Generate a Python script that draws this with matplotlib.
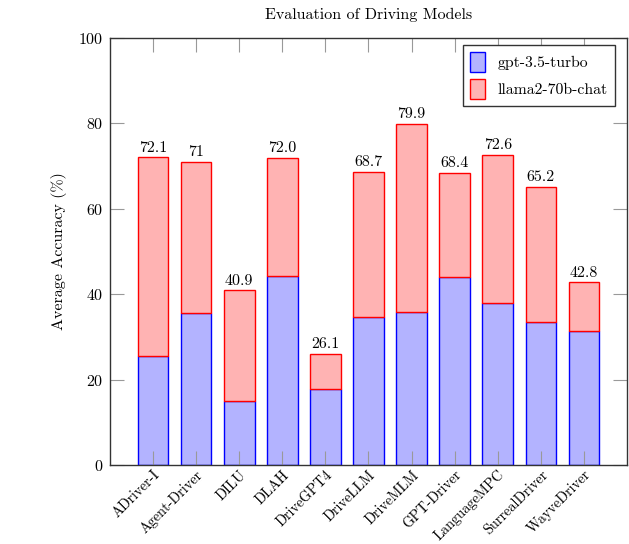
import numpy as np
import matplotlib
matplotlib.use('Agg')
import matplotlib.pyplot as plt

plt.rcParams['font.family'] = 'serif'
plt.rcParams['font.serif'] = ['cmr10']
plt.rcParams['axes.formatter.use_mathtext'] = True
plt.rcParams['mathtext.fontset'] = 'cm'

models = ['ADriver-I', 'Agent-Driver', 'DILU', 'DLAH', 'DriveGPT4', 'DriveLLM',
          'DriveMLM', 'GPT-Driver', 'LanguageMPC', 'SurrealDriver', 'WayveDriver']
gpt35 = [25.5, 35.5, 15.1, 44.3, 17.8, 34.6, 35.8, 44.0, 38.0, 33.4, 31.4]
totals = [72.1, 71, 40.9, 72.0, 26.1, 68.7, 79.9, 68.4, 72.6, 65.2, 42.8]
total_labels = ['72.1', '71', '40.9', '72.0', '26.1', '68.7', '79.9', '68.4', '72.6', '65.2', '42.8']
llama = [t - g for t, g in zip(totals, gpt35)]

x = np.arange(len(models))

fig = plt.figure(figsize=(6.29, 5.44), dpi=100)
ax = fig.add_axes([110/629, 79/544, 517/629, 427/544])

ax.bar(x, gpt35, width=0.71, color='#b3b3ff', edgecolor='#0000ff',
       linewidth=1.0, label='gpt-3.5-turbo')
ax.bar(x, llama, width=0.71, bottom=gpt35, color='#ffb3b3', edgecolor='#ff0000',
       linewidth=1.0, label='llama2-70b-chat')

for xi, t, lab in zip(x, totals, total_labels):
    ax.text(xi, t + 0.6, lab, ha='center', va='bottom', fontsize=11.5)

ax.set_xlim(-1, 11)
ax.set_ylim(0, 100)
ax.set_yticks([0, 20, 40, 60, 80, 100])
ax.set_xticks(x)
ax.set_xticklabels(models, rotation=45, ha='right', rotation_mode='anchor', fontsize=10.3)
ax.tick_params(axis='both', direction='in', length=10, width=0.8, color='#999999',
               top=True, right=True, labelsize=11.5)
ax.tick_params(axis='x', pad=2, labelsize=10.3)
ax.tick_params(axis='y', pad=5)
for s in ax.spines.values():
    s.set_linewidth(1.0)
    s.set_color('#333333')

ax.set_ylabel('Average Accuracy (%)', fontsize=11.5, labelpad=8)
ax.set_title('Evaluation of Driving Models', fontsize=11.5, pad=14)

leg = ax.legend(loc='upper right', fontsize=11.3, fancybox=False, edgecolor='#333333',
                framealpha=1, handlelength=1.0, handleheight=1.6, borderpad=0.45,
                labelspacing=0.45, borderaxespad=0, bbox_to_anchor=(0.977, 0.984))
leg.get_frame().set_linewidth(1.0)

fig.savefig('out.png', dpi=100)
